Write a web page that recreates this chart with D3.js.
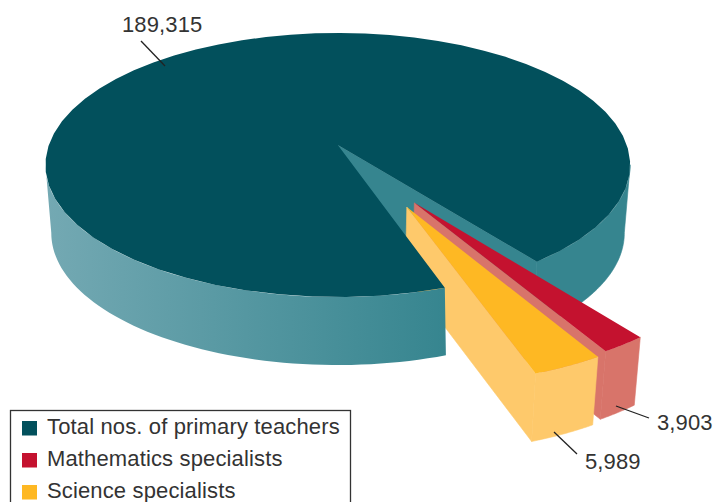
<!DOCTYPE html>
<html><head><meta charset="utf-8">
<script src="https://cdn.jsdelivr.net/npm/d3@7"></script>
<style>html,body{margin:0;padding:0;background:#fff;overflow:hidden}svg{display:block}text{font-family:"Liberation Sans",Arial,sans-serif;fill:#333}</style>
</head><body><svg id="c" width="713" height="502"></svg>
<script>
const categories = ["Total nos. of primary teachers","Mathematics specialists","Science specialists"];
const values = [189315, 3903, 5989];
const valueLabels = ["189,315","3,903","5,989"];
const topColors = ["#02505c","#c4122f","#feb823"];
const sideColors = ["#36858f","#d8746a","#fec96b"];

const svg = d3.select("#c");
const deg = Math.PI/180;
const total = values[0];
const slices = d3.pie().sort(null).startAngle(142.7*deg).endAngle(502.7*deg)
  ([values[1], values[2], total-values[1]-values[2]]);
const [redS, yelS, mainS] = slices;

// perspective projection of the unit disc
const cx=337.8, cy=145, a=289, b=129, k=0.1515, drop=68, shrink=0.98;
function proj(u,v,low){
  const d=1-k*v; let X=a*u/d, Y=b*v/d;
  if(low){X*=shrink; Y+=drop;}
  return [cx+X, cy+Y];
}
const rim=(t,o,low)=>proj(o[0]+Math.sin(t),o[1]-Math.cos(t),low);
const arcPts=(t0,t1,o,low)=>d3.range(0,61).map(i=>rim(t0+(t1-t0)*i/60,o,low));
const line=d3.line();
const poly=p=>line(p)+"Z";
const wedge=(s,o)=>poly([proj(o[0],o[1]),...arcPts(s.startAngle,s.endAngle,o)]);
const band=(t0,t1,o,lowShift=0)=>poly([...arcPts(t0,t1,o),...arcPts(t0-lowShift,t1,o,true).reverse()]);
const cut=(t,o)=>poly([proj(o[0],o[1]),rim(t,o),rim(t,o,true),proj(o[0],o[1],true)]);

const defs=svg.append("defs");
const g=defs.append("linearGradient").attr("id","wall").attr("gradientUnits","userSpaceOnUse")
  .attr("x1",45).attr("x2",447).attr("y1",0).attr("y2",0);
g.append("stop").attr("offset",0).attr("stop-color","#74a9b3");
g.append("stop").attr("offset",1).attr("stop-color","#36858f");

const O=[0,0], redO=[0.248,0.42], yelO=[0.2225,0.448];
const path=(d,f)=>svg.append("path").attr("d",d).attr("fill",f);
const side=(d,f)=>path(d,f).attr("stroke",f).attr("stroke-width",0.6).attr("stroke-linejoin","round");

// silhouette angles of the disc (widest screen points)
const widestR=98.6*deg, widestL=261.4*deg;

// main, far right wall and cut
side(band(widestR,mainS.endAngle-360*deg,O),sideColors[0]);
side(cut(mainS.endAngle,O),sideColors[0]);
// mathematics slice
side(cut(redS.endAngle,redO),sideColors[1]);
side(band(redS.startAngle,redS.endAngle,redO),sideColors[1]);
path(wedge(redS,redO),topColors[1]);
// science slice
side(cut(yelS.endAngle,yelO),sideColors[2]);
side(band(yelS.startAngle,yelS.endAngle,yelO),sideColors[2]);
path(wedge(yelS,yelO),topColors[2]);
// main, front-left wall and top
path(band(mainS.startAngle,widestL,O,0.6*deg),"url(#wall)");
path(wedge(mainS,O),topColors[0]);

// leaders and value labels
const leaders=[[[141,41],[165,66]],[[616,406],[649,418]],[[554,432],[577,454]]];
leaders.forEach(l=>svg.append("path").attr("d",line(l)).attr("stroke","#222").attr("stroke-width",1.3).attr("fill","none"));
const labelPos=[[122,32],[657,430],[585,469]];
valueLabels.forEach((t,i)=>svg.append("text").attr("x",labelPos[i][0]).attr("y",labelPos[i][1]).attr("font-size",22).attr("letter-spacing",0.12).text(t));

// legend
svg.append("rect").attr("x",10.5).attr("y",410.5).attr("width",340).attr("height",110)
  .attr("fill","#fff").attr("stroke","#333").attr("stroke-width",1.3);
categories.forEach((c,i)=>{
  svg.append("rect").attr("x",22).attr("y",421+32*i).attr("width",15).attr("height",14.5).attr("fill",topColors[i]);
  svg.append("text").attr("x",47).attr("y",434+32*i).attr("font-size",22).attr("letter-spacing",0.14).text(c);
});
</script></body></html>
